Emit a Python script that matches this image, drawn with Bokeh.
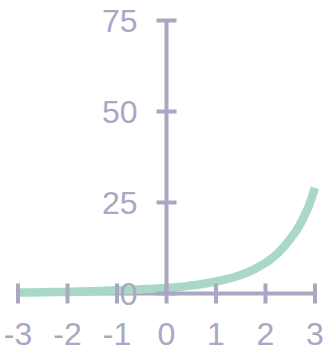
from bokeh.plotting import figure
from bokeh.models import ColumnDataSource
from bokeh.core.properties import value
from bokeh.embed import file_html
from bokeh.resources import INLINE

# Curve samples
x_vals = [-3.0, -2.75, -2.5, -2.25, -2.0, -1.75, -1.5, -1.25, -1.0, -0.75, -0.5, -0.25,
          0.0, 0.125, 0.25, 0.375, 0.5, 0.625, 0.75, 0.875, 1.0, 1.125, 1.25, 1.375,
          1.5, 1.625, 1.75, 1.875, 2.0, 2.125, 2.25, 2.375, 2.5, 2.625, 2.75, 2.875, 3.0]
y_vals = [0.25, 0.3, 0.35, 0.4, 0.45, 0.55, 0.65, 0.75, 0.9, 1.0, 1.15, 1.3,
          1.5, 1.64, 1.8, 1.97, 2.2, 2.42, 2.68, 2.97, 3.3, 3.66, 4.07, 4.55,
          5.1, 5.75, 6.5, 7.4, 8.4, 9.6, 11.1, 12.9, 15.0, 17.3, 20.3, 24.0, 29.0]

# Axis ticks
x_ticks = [-3, -2, -1, 0, 1, 2, 3]
x_tick_labels = ["-3", "-2", "-1", "0", "1", "2", "3"]
y_ticks = [0, 25, 50, 75]
y_tick_labels = ["0", "25", "50", "75"]

AXIS = "#aba6c1"
CURVE = "#a9d8c7"
FONT = "Liberation Sans"

p = figure(width=324, height=348, output_backend="svg", toolbar_location=None,
           x_range=(-3.354, 3.192), y_range=(-15.1, 80.5),
           x_axis_location=None, y_axis_location=None, min_border=0)
p.grid.visible = False
p.outline_line_color = None
p.background_fill_color = "white"
p.border_fill_color = "white"

# x axis line (under the curve)
p.line(x=[x_ticks[0], x_ticks[-1]], y=[0, 0], line_color=AXIS, line_width=4)

# the curve
p.line(x=x_vals, y=y_vals, line_color=CURVE, line_width=8.5,
       line_cap="butt", line_join="round")

# y axis line
p.line(x=[0, 0], y=[y_ticks[0], y_ticks[-1]], line_color=AXIS, line_width=4)

# tick marks
xt = ColumnDataSource(dict(x=x_ticks, y=[0] * len(x_ticks), t=x_tick_labels))
yt = ColumnDataSource(dict(x=[0] * len(y_ticks), y=y_ticks, t=y_tick_labels))
p.scatter(x="x", y="y", source=xt, marker="dash", size=20, angle=1.5708,
          line_color=AXIS, line_width=4)
p.scatter(x="x", y="y", source=yt, marker="dash", size=20,
          line_color=AXIS, line_width=4)

# tick labels
p.text(x="x", y="y", text="t", source=xt, text_align="center", text_baseline="middle",
       y_offset=40, text_font=value(FONT), text_font_size="32px", text_color=AXIS)
p.text(x="x", y="y", text="t", source=yt, text_align="right", text_baseline="middle",
       x_offset=-29, text_font=value(FONT), text_font_size="32px", text_color=AXIS)

open("out.html", "w").write(file_html(p, INLINE))
